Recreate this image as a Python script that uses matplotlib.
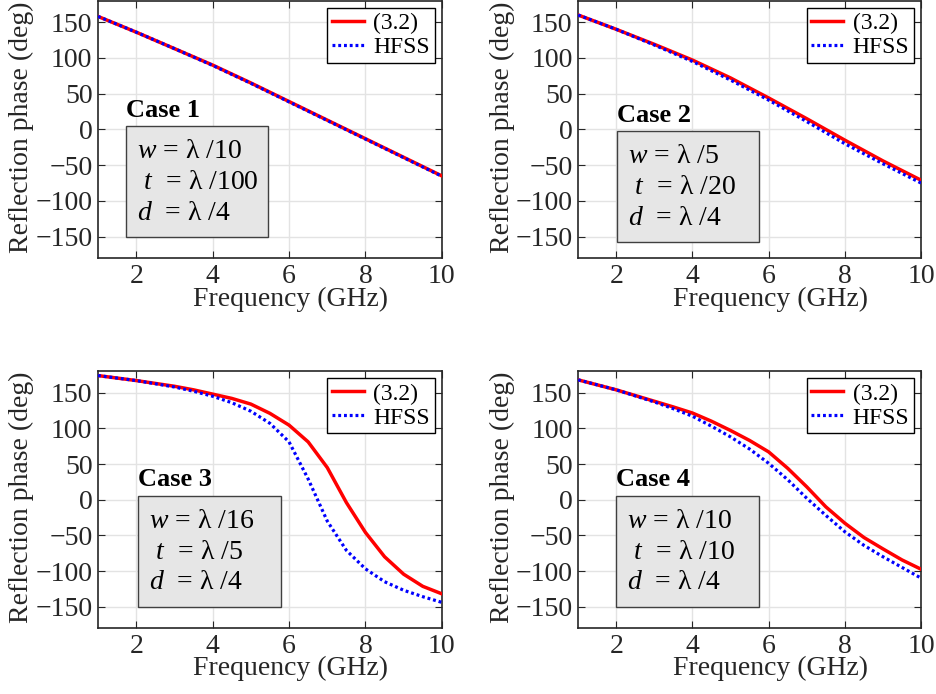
import matplotlib
matplotlib.use("Agg")
import matplotlib.pyplot as plt
from matplotlib.patches import Rectangle

plt.rcParams['font.family'] = 'Liberation Serif'
plt.rcParams['mathtext.fontset'] = 'custom'
plt.rcParams['mathtext.rm'] = 'Liberation Serif'
plt.rcParams['mathtext.it'] = 'Liberation Serif:italic'

# frequency grids (GHz)
freq_a = [1, 2, 3, 4, 5, 6, 7, 8, 9, 10]
freq_b = [1, 1.5, 2, 2.5, 3, 3.5, 4, 4.5, 5, 5.5, 6, 6.5, 7, 7.5, 8, 8.5, 9, 9.5, 10]

# reflection phase (deg): eq. (3.2) vs HFSS
case1_eq = [158, 136, 113, 90, 65, 39, 13, -13, -39, -65]
case1_hfss = [158, 136, 113, 89.5, 64.5, 38.5, 12.5, -13.5, -39.5, -65.5]
case2_eq = [160, 140, 119, 97, 72, 44, 15, -15, -44, -71]
case2_hfss = [160, 140, 118, 95, 69, 41, 11, -20, -48, -75]
case3_eq = [174, 170.5, 167, 163, 159, 154, 148, 142, 134, 121, 104.5, 81, 45, -4,
            -46, -80, -104.5, -121.5, -132]
case3_hfss = [174, 170.5, 167, 162.5, 158, 152, 145, 136, 124, 107, 81, 29, -30, -71,
              -97, -115, -127, -136, -144]
case4_eq = [168, 161, 154, 146, 138, 130, 121.5, 110, 97, 83, 67, 44, 18, -10,
            -33, -53, -69, -84.5, -97.5]
case4_hfss = [168, 161, 154, 145.5, 137, 127.5, 117, 103, 88, 71, 51, 28, 2, -22,
              -45, -64, -80, -95, -110]

case_names = ["Case 1", "Case 2", "Case 3", "Case 4"]
case_w = ["λ /10", "λ /5", "λ /16", "λ /10"]
case_t = ["λ /100", "λ /20", "λ /5", "λ /10"]
case_d = ["λ /4", "λ /4", "λ /4", "λ /4"]

series = [(freq_a, case1_eq, case1_hfss), (freq_a, case2_eq, case2_hfss),
          (freq_b, case3_eq, case3_hfss), (freq_b, case4_eq, case4_hfss)]

# box corners (data coords) for each parameter panel
boxes = [(1.73, -151, 5.46, 5), (2.02, -158, 5.75, -2),
         (2.05, -151, 5.8, 5.6), (2.0, -150, 5.74, 5.6)]

axpos = [[0.1046, 0.628, 0.367, 0.371], [0.617, 0.628, 0.366, 0.371],
         [0.1046, 0.095, 0.367, 0.370], [0.617, 0.095, 0.366, 0.370]]

fig = plt.figure(figsize=(9.37, 6.94), dpi=100)
dark = '#262626'
fs = 20

for i in range(4):
    ax = fig.add_axes(axpos[i])
    f, eq, hf = series[i]
    ax.plot(f, eq, color='#ff0000', lw=2.5, label='(3.2)', zorder=3)
    ax.plot(f, hf, color='#0000ff', lw=2.3, ls=(0, (0.9, 0.9)), label='HFSS', zorder=4)
    ax.set_xlim(1, 10)
    ax.set_ylim(-180, 180)
    ax.set_xticks([2, 4, 6, 8, 10])
    ax.set_yticks([-150, -100, -50, 0, 50, 100, 150])
    ax.grid(True, color='#e3e3e3', lw=1)
    ax.set_axisbelow(True)
    ax.tick_params(direction='in', top=True, right=True, labelsize=fs,
                   colors=dark, length=5, pad=4)
    for s in ax.spines.values():
        s.set_color(dark)
        s.set_linewidth(1.2)
    ax.set_xlabel('Frequency (GHz)', fontsize=fs, color=dark)
    ax.xaxis.set_label_coords(0.56, -0.11)
    ax.set_ylabel('Reflection phase (deg)', fontsize=fs, color=dark)
    ax.yaxis.set_label_coords(-0.185, 0.51)
    leg = ax.legend(loc='upper right', fontsize=17, fancybox=False, framealpha=1,
                    edgecolor='black', handlelength=1.35, handletextpad=0.4,
                    borderpad=0.2, labelspacing=0.1, borderaxespad=0.3)
    leg.get_frame().set_linewidth(1.0)

    x0, y0, x1, y1 = boxes[i]
    ax.add_patch(Rectangle((x0, y0), x1 - x0, y1 - y0, facecolor='#e6e6e6',
                           edgecolor='#404040', lw=1.0, zorder=5))
    ax.text(x0, y1 + 22, case_names[i], fontsize=19, fontweight='bold',
            va='center', ha='left', zorder=6)
    tx = x0 + 0.28
    ax.text(tx, y1 - 36, r'$w$ = ' + case_w[i], fontsize=20, va='center', ha='left', zorder=6)
    ax.text(tx, y1 - 79, r' $t$  = ' + case_t[i], fontsize=20, va='center', ha='left', zorder=6)
    ax.text(tx, y1 - 122, r'$d$  = ' + case_d[i], fontsize=20, va='center', ha='left', zorder=6)

fig.savefig('out.png', dpi=100)
